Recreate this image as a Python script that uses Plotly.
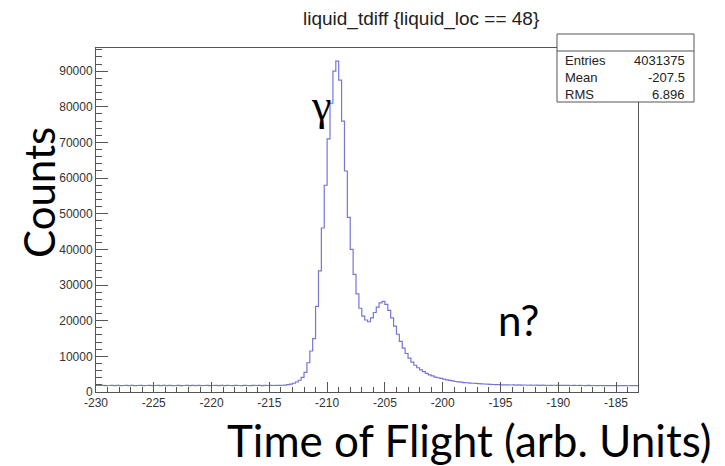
import plotly.graph_objects as go

# ---------------- data ----------------
x_low = -230.0
bin_width = 0.25
counts = [
    # -230 .. -214 (flat baseline)
    1850, 1820, 1880, 1790, 1830, 1860, 1800, 1840, 1780, 1820, 1870, 1810, 1850, 1790, 1830, 1860,
    1800, 1820, 1850, 1780, 1830, 1870, 1800, 1840, 1810, 1850, 1790, 1830, 1860, 1800, 1820, 1850,
    1790, 1840, 1810, 1870, 1800, 1830, 1850, 1790, 1820, 1860, 1800, 1840, 1810, 1850, 1830, 1790,
    1860, 1820, 1800, 1850, 1830, 1810, 1870, 1820, 1840, 1800, 1850, 1830, 1860, 1820, 1850, 1880,
    # -214 .. -209
    1900, 1950, 2050, 2200,
    2450, 2800, 3300, 4100,
    5500, 8200, 11500, 15000,
    24000, 34000, 46000, 58000,
    71000, 81000, 90000, 92800,
    # -209 .. -204
    87500, 76000, 62000, 49000,
    40000, 33000, 27500, 23500,
    21300, 20200, 19700, 20800,
    22300, 23800, 25000, 25400,
    24600, 22900, 20800, 18500,
    # -204 .. -195
    16200, 14200, 12300, 10800,
    9500, 8400, 7500, 6800,
    6200, 5700, 5200, 4800,
    4500, 4200, 4000, 3800,
    3600, 3400, 3250, 3100,
    2950, 2850, 2750, 2650,
    2600, 2500, 2450, 2400,
    2350, 2300, 2250, 2200,
    2150, 2100, 2080, 2050,
    # -195 .. -183
    2020, 1990, 2000, 1960, 1980, 1940, 1990, 1920, 1960, 1900, 1950, 1890, 1930, 1880, 1910, 1870,
    1900, 1860, 1890, 1850, 1880, 1860, 1840, 1870, 1830, 1860, 1820, 1850, 1830, 1810, 1840, 1800,
    1830, 1790, 1820, 1800, 1780, 1810, 1790, 1800, 1770, 1800, 1780, 1790, 1760, 1790, 1770, 1780,
]
x_range = [-230.0, -183.1]
y_range = [0, 96500]
x_tickvals = [-230, -225, -220, -215, -210, -205, -200, -195, -190, -185]
y_tickvals = [0, 10000, 20000, 30000, 40000, 50000, 60000, 70000, 80000, 90000]
title_text = "liquid_tdiff {liquid_loc == 48}"
stats_labels = ["Entries", "Mean", "RMS"]
stats_values = ["4031375", "-207.5", "6.896"]
x_title = "Time of Flight (arb. Units)"
y_title = "Counts"
peak_labels = ["γ", "n?"]

# ---------------- geometry ----------------
W, H = 725, 466
L, R, T, B = 96, 638, 48, 392


def fx(px):
    return (px - L) / (R - L)


def fy(py):
    return (B - py) / (B - T)


edges = [x_low + i * bin_width for i in range(len(counts) + 1)]
ys = counts + [counts[-1]]

fig = go.Figure()
fig.add_trace(go.Scatter(
    x=edges, y=ys, mode="lines",
    line=dict(shape="hv", color="#7676d8", width=1.2),
    hoverinfo="skip", showlegend=False,
))

tick_font = dict(family="Liberation Sans, Arial, sans-serif", size=12, color="#333333")
frame_col = "#555555"

fig.update_layout(
    width=W, height=H,
    margin=dict(l=L, r=W - R, t=T, b=H - B, pad=0),
    paper_bgcolor="white", plot_bgcolor="white",
    showlegend=False,
    xaxis=dict(
        range=x_range, tickmode="array", tickvals=x_tickvals,
        ticktext=[str(v) for v in x_tickvals],
        ticks="inside", ticklen=10, tickwidth=1, tickcolor=frame_col,
        showline=True, linecolor=frame_col, linewidth=1, mirror=True,
        showgrid=False, zeroline=False, tickfont=tick_font,
        minor=dict(dtick=1, tick0=-230, ticks="inside", ticklen=5, tickcolor=frame_col, showgrid=False),
    ),
    yaxis=dict(
        range=y_range, tickmode="array", tickvals=y_tickvals,
        ticktext=[str(v) for v in y_tickvals],
        ticks="inside", ticklen=12, tickwidth=1, tickcolor=frame_col,
        showline=True, linecolor=frame_col, linewidth=1, mirror=True,
        showgrid=False, zeroline=False, tickfont=tick_font,
        minor=dict(dtick=2000, tick0=0, ticks="inside", ticklen=6, tickcolor=frame_col, showgrid=False),
    ),
)

annotations = []
# ROOT title
annotations.append(dict(
    text=title_text, xref="paper", yref="paper", x=fx(421), y=fy(19),
    xanchor="center", yanchor="middle", showarrow=False,
    font=dict(family="Liberation Sans Narrow, Liberation Sans, Arial", size=19, color="#222222"),
))

# stats box
bx0, bx1, by0, by1, bdiv = 557, 694, 34, 102, 51
shapes = [
    dict(type="rect", xref="paper", yref="paper", x0=fx(bx0), x1=fx(bx1), y0=fy(by1), y1=fy(by0),
         line=dict(color=frame_col, width=1), fillcolor="white", layer="above"),
    dict(type="line", xref="paper", yref="paper", x0=fx(bx0), x1=fx(bx1), y0=fy(bdiv), y1=fy(bdiv),
         line=dict(color=frame_col, width=1), layer="above"),
]
row_y = [60.5, 77.5, 94]
stat_font = dict(family="Liberation Sans, Arial", size=13, color="#222222")
for lab, val, ry in zip(stats_labels, stats_values, row_y):
    annotations.append(dict(text=lab, xref="paper", yref="paper", x=fx(563), y=fy(ry),
                            xanchor="left", yanchor="middle", showarrow=False, font=stat_font))
    annotations.append(dict(text=val, xref="paper", yref="paper", x=fx(687), y=fy(ry),
                            xanchor="right", yanchor="middle", showarrow=False, font=stat_font))

big_font = dict(family="Lato, Open Sans, sans-serif", size=42, color="black")
annotations.append(dict(text=y_title, xref="paper", yref="paper", x=fx(39), y=fy(193),
                        xanchor="center", yanchor="middle", textangle=-90, showarrow=False,
                        font=big_font))
annotations.append(dict(text=x_title, xref="paper", yref="paper", x=fx(714), y=fy(440),
                        xanchor="right", yanchor="middle", showarrow=False,
                        font=dict(family="Lato, Open Sans, sans-serif", size=44, color="black")))
annotations.append(dict(text=peak_labels[0], xref="paper", yref="paper", x=fx(321), y=fy(106),
                        xanchor="center", yanchor="middle", showarrow=False,
                        font=dict(family="Liberation Serif, DejaVu Serif, serif", size=44, color="black")))
annotations.append(dict(text=peak_labels[1], xref="paper", yref="paper", x=fx(518), y=fy(320),
                        xanchor="center", yanchor="middle", showarrow=False, font=big_font))

fig.update_layout(annotations=annotations, shapes=shapes)
fig.write_html("out.html")
